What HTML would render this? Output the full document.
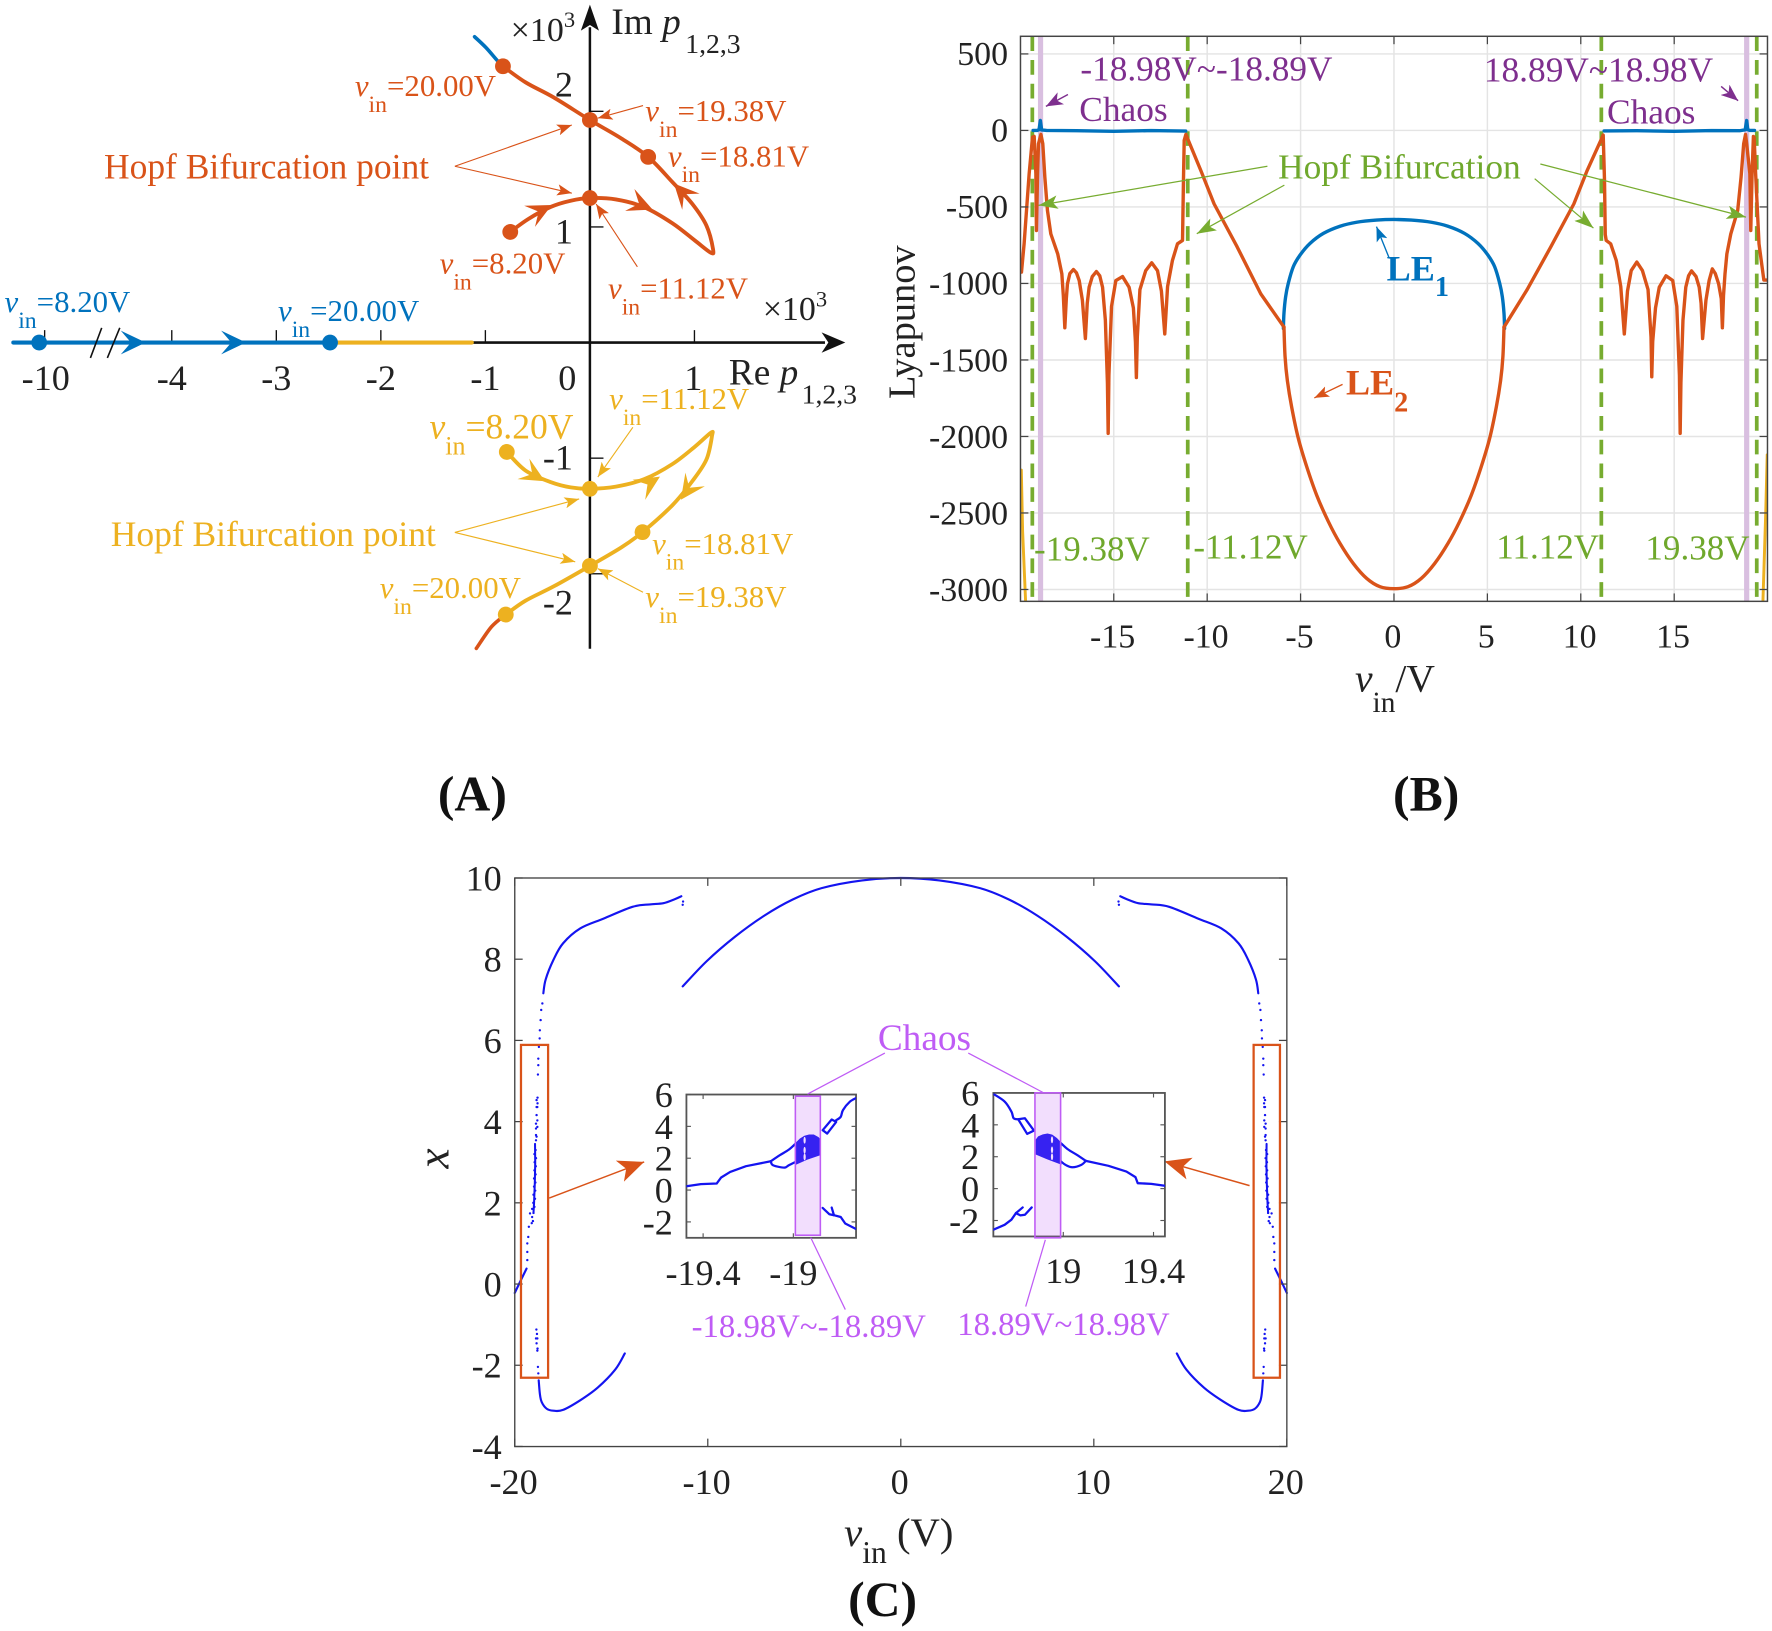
<!DOCTYPE html>
<html lang="en">
<head>
<meta charset="utf-8">
<title>Pole trajectories, Lyapunov exponents and bifurcation diagram</title>
<style>
html,body{margin:0;padding:0;background:#fff;}
svg{display:block;font-family:"Liberation Serif","Noto Serif CJK SC",serif;}
.vin{font-size:27.3px;}
.t31{font-size:31.3px;}
.t30{font-size:31px;}
.panel{font-size:44px;font-weight:bold;fill:#111;text-anchor:middle;}
.tick{fill:#222;}
</style>
</head>
<body>
<svg id="figure" xmlns="http://www.w3.org/2000/svg" width="1772" height="1631" viewBox="0 0 1568 1443">
<defs>
  <marker id="ah-orange" markerWidth="14" markerHeight="10" refX="13" refY="5" orient="auto" markerUnits="userSpaceOnUse"><path d="M0 0L13 5L0 10L3 5Z" fill="#d95319"/></marker>
  <marker id="ah-big-orange" markerWidth="24" markerHeight="20" refX="23" refY="10" orient="auto" markerUnits="userSpaceOnUse"><path d="M0 0L23 10L0 20L6 10Z" fill="#d95319"/></marker>
  <marker id="ah-yellow" markerWidth="14" markerHeight="10" refX="13" refY="5" orient="auto" markerUnits="userSpaceOnUse"><path d="M0 0L13 5L0 10L3 5Z" fill="#edb120"/></marker>
  <marker id="ah-green" markerWidth="18" markerHeight="12" refX="17" refY="6" orient="auto" markerUnits="userSpaceOnUse"><path d="M0 0L17 6L0 12L4 6Z" fill="#77ac30"/></marker>
  <marker id="ah-purple" markerWidth="16" markerHeight="12" refX="15" refY="6" orient="auto" markerUnits="userSpaceOnUse"><path d="M0 0L15 6L0 12L4 6Z" fill="#7e2f8e"/></marker>
  <marker id="ah-blue" markerWidth="14" markerHeight="10" refX="13" refY="5" orient="auto" markerUnits="userSpaceOnUse"><path d="M0 0L13 5L0 10L3 5Z" fill="#0072bd"/></marker>
  <clipPath id="clip-b"><rect x="903" y="32" width="661" height="500"/></clipPath>
  <clipPath id="clip-left-inset"><rect x="607.4" y="968.4" width="150.1" height="126.8"/></clipPath>
  <clipPath id="clip-right-inset"><rect x="879" y="967" width="151.8" height="127"/></clipPath>
</defs>

<rect x="0" y="0" width="1568" height="1443" fill="#fff"/>

<!-- PANEL A -->
<g id="panel-a">
  <g id="a-marks"></g>
  <g stroke="#111" stroke-width="1.4">
    <line x1="80" y1="316.6" x2="90" y2="290"/>
    <line x1="95" y1="316.6" x2="106" y2="290"/>
  </g>
  <g stroke="#d95319" stroke-width="1" fill="none">
    <line x1="569" y1="93.3" x2="529" y2="104.4" marker-end="url(#ah-orange)"/>
    <line x1="402.5" y1="147" x2="506" y2="110.5" marker-end="url(#ah-orange)"/>
    <line x1="402.5" y1="147" x2="506" y2="170.8" marker-end="url(#ah-orange)"/>
    <line x1="564" y1="236" x2="527.5" y2="180.4" marker-end="url(#ah-orange)"/>
  </g>
  <g stroke="#edb120" stroke-width="1" fill="none">
    <line x1="560" y1="378" x2="529" y2="422" marker-end="url(#ah-yellow)"/>
    <line x1="402.5" y1="471" x2="512.5" y2="441.4" marker-end="url(#ah-yellow)"/>
    <line x1="402.5" y1="471" x2="509" y2="497" marker-end="url(#ah-yellow)"/>
    <line x1="569" y1="524" x2="529" y2="503" marker-end="url(#ah-yellow)"/>
  </g>
  <text x="675" y="283" font-size="30" fill="#222">×10<tspan font-size="20" dy="-12">3</tspan></text>
  <text x="452" y="36" font-size="30" fill="#222">×10<tspan font-size="20" dy="-12">3</tspan></text>
  <text x="541" y="30" font-size="33" fill="#222">Im <tspan font-style="italic">p</tspan><tspan font-size="24.5" dy="17" dx="4">1,2,3</tspan></text>
  <text x="645" y="340" font-size="33" fill="#222">Re <tspan font-style="italic">p</tspan><tspan font-size="24.5" dy="17" dx="3">1,2,3</tspan></text>
  <text x="92" y="158" font-size="31.4" fill="#d95319">Hopf Bifurcation point</text>
  <text x="98" y="483" font-size="31.4" fill="#edb120">Hopf Bifurcation point</text>

  <text x="314" y="85" class="vin" fill="#d95319"><tspan font-style="italic">v</tspan><tspan dy="14" font-size="21">in</tspan><tspan dy="-14">=20.00V</tspan></text>
  <text x="571" y="107" class="vin" fill="#d95319"><tspan font-style="italic">v</tspan><tspan dy="14" font-size="21">in</tspan><tspan dy="-14">=19.38V</tspan></text>
  <text x="591" y="147" class="vin" fill="#d95319"><tspan font-style="italic">v</tspan><tspan dy="14" font-size="21">in</tspan><tspan dy="-14">=18.81V</tspan></text>
  <text x="389" y="242" class="vin" fill="#d95319"><tspan font-style="italic">v</tspan><tspan dy="14" font-size="21">in</tspan><tspan dy="-14">=8.20V</tspan></text>
  <text x="538" y="264" class="vin" fill="#d95319"><tspan font-style="italic">v</tspan><tspan dy="14" font-size="21">in</tspan><tspan dy="-14">=11.12V</tspan></text>
  <text x="4" y="276" class="vin" fill="#0072bd"><tspan font-style="italic">v</tspan><tspan dy="14" font-size="21">in</tspan><tspan dy="-14">=8.20V</tspan></text>
  <text x="246" y="284" class="vin" fill="#0072bd"><tspan font-style="italic">v</tspan><tspan dy="14" font-size="21">in</tspan><tspan dy="-14">=20.00V</tspan></text>
  <text x="539" y="362" class="vin" fill="#edb120"><tspan font-style="italic">v</tspan><tspan dy="14" font-size="21">in</tspan><tspan dy="-14">=11.12V</tspan></text>
  <text x="380" y="388" font-size="31.5" fill="#edb120"><tspan font-style="italic">v</tspan><tspan dy="14" font-size="23">in</tspan><tspan dy="-14">=8.20V</tspan></text>
  <text x="577" y="490" class="vin" fill="#edb120"><tspan font-style="italic">v</tspan><tspan dy="14" font-size="21">in</tspan><tspan dy="-14">=18.81V</tspan></text>
  <text x="571" y="537" class="vin" fill="#edb120"><tspan font-style="italic">v</tspan><tspan dy="14" font-size="21">in</tspan><tspan dy="-14">=19.38V</tspan></text>
  <text x="336" y="529" class="vin" fill="#edb120"><tspan font-style="italic">v</tspan><tspan dy="14" font-size="21">in</tspan><tspan dy="-14">=20.00V</tspan></text>
  <text x="418" y="717" class="panel">(A)</text>
</g>

<!-- PANEL B -->
<g id="panel-b">
  <g id="b-grid"></g>
  <g id="b-marks" clip-path="url(#clip-b)"></g>
  <rect x="903" y="32" width="661" height="500" fill="none" stroke="#444" stroke-width="1.3"/>
  <g id="b-axes"></g>
  <text transform="translate(809,285) rotate(-90)" font-size="34" fill="#222" text-anchor="middle">Lyapunov</text>
  <text x="1199" y="612" font-size="35" fill="#222"><tspan font-style="italic">v</tspan><tspan dy="18" font-size="26">in</tspan><tspan dy="-18">/V</tspan></text>
  <text x="956" y="71" font-size="31.2" fill="#7e2f8e">-18.98V~-18.89V</text>
  <text x="955" y="107" class="t31" fill="#7e2f8e">Chaos</text>
  <text x="1313" y="72" class="t31" fill="#7e2f8e">18.89V~18.98V</text>
  <text x="1422" y="109" class="t31" fill="#7e2f8e">Chaos</text>
  <line x1="945" y1="83.5" x2="925.5" y2="94" stroke="#7e2f8e" stroke-width="1.3" marker-end="url(#ah-purple)"/>
  <line x1="1523" y1="76.4" x2="1538" y2="89" stroke="#7e2f8e" stroke-width="1.3" marker-end="url(#ah-purple)"/>
  <text x="1131" y="158" class="t31" fill="#6fa82c">Hopf Bifurcation</text>
  <g stroke="#77ac30" stroke-width="1.1">
    <line x1="1121.5" y1="147" x2="919" y2="181.6" marker-end="url(#ah-green)"/>
    <line x1="1136.5" y1="163.7" x2="1059" y2="206.7" marker-end="url(#ah-green)"/>
    <line x1="1363" y1="145" x2="1545" y2="192" marker-end="url(#ah-green)"/>
    <line x1="1358" y1="158" x2="1410" y2="201.7" marker-end="url(#ah-green)"/>
  </g>
  <text x="915" y="496" class="t30" fill="#6fa82c">-19.38V</text>
  <text x="1056" y="494" class="t30" fill="#6fa82c">-11.12V</text>
  <text x="1324" y="494" class="t30" fill="#6fa82c">11.12V</text>
  <text x="1456" y="495" class="t30" fill="#6fa82c">19.38V</text>
  <text x="1227" y="248" font-size="32" font-weight="bold" fill="#0072bd">LE<tspan dy="14" font-size="25">1</tspan></text>
  <text x="1191" y="349" font-size="32" font-weight="bold" fill="#d95319">LE<tspan dy="15" font-size="25">2</tspan></text>
  <line x1="1229" y1="227.6" x2="1218" y2="200.4" stroke="#0072bd" stroke-width="1.2" marker-end="url(#ah-blue)"/>
  <line x1="1188" y1="340" x2="1163" y2="352" stroke="#d95319" stroke-width="1.2" marker-end="url(#ah-orange)"/>
  <text x="1262" y="717" class="panel">(B)</text>
</g>

<!-- PANEL C -->
<g id="panel-c">
  <g id="c-marks"></g>
  <rect x="455.5" y="776.8" width="683.2" height="503.1" fill="none" stroke="#444" stroke-width="1.2"/>
  <g id="c-axes"></g>
  <text transform="translate(397,1025) rotate(-90)" font-size="40" font-style="italic" fill="#222" text-anchor="middle">x</text>
  <text x="747" y="1368" font-size="36" fill="#222"><tspan font-style="italic">v</tspan><tspan dy="15" font-size="28">in</tspan><tspan dy="-15" dx="9">(V)</tspan></text>
  <rect x="461" y="924.5" width="24" height="294.5" fill="none" stroke="#d95319" stroke-width="2"/>
  <rect x="1109.3" y="924.5" width="23.3" height="294.5" fill="none" stroke="#d95319" stroke-width="2"/>
  <line x1="486" y1="1060" x2="570" y2="1028" stroke="#d95319" stroke-width="1.3" marker-end="url(#ah-big-orange)"/>
  <line x1="1105.7" y1="1049" x2="1030.5" y2="1027.6" stroke="#d95319" stroke-width="1.3" marker-end="url(#ah-big-orange)"/>

  <g id="inset-left">
    <rect x="607.4" y="968.4" width="150.1" height="126.8" fill="#fff" stroke="#555" stroke-width="1.6"/>
    <g id="inset-left-marks" clip-path="url(#clip-left-inset)"></g>
    <rect x="703.8" y="969.9" width="22.1" height="123" fill="#bf5cf5" fill-opacity="0.2" stroke="#bf5cf5" stroke-width="1.4"/>
  </g>
  <g id="inset-right">
    <rect x="879" y="967" width="151.8" height="127" fill="#fff" stroke="#555" stroke-width="1.6"/>
    <g id="inset-right-marks" clip-path="url(#clip-right-inset)"></g>
    <rect x="915.8" y="966.9" width="22.7" height="128.3" fill="#bf5cf5" fill-opacity="0.2" stroke="#bf5cf5" stroke-width="1.4"/>
  </g>
  <g id="inset-axes"></g>

  <text x="818" y="929" font-size="33" fill="#bf5cf5" text-anchor="middle">Chaos</text>
  <g stroke="#bf5cf5" stroke-width="1.1">
    <line x1="783" y1="931.7" x2="714.6" y2="968"/>
    <line x1="856.8" y1="931.7" x2="922.8" y2="966.5"/>
    <line x1="717.4" y1="1095" x2="748" y2="1158.7"/>
    <line x1="925" y1="1097" x2="907.6" y2="1156"/>
  </g>
  <text x="612" y="1183" font-size="29" fill="#bf5cf5">-18.98V~-18.89V</text>
  <text x="847" y="1181" font-size="29" fill="#bf5cf5">18.89V~18.98V</text>
  <text x="781" y="1430" class="panel">(C)</text>
</g>

<script>
/* ---------- Panel A data (Re, Im in units of 10^3) ---------- */
const realAxisTicks = [-10, -4, -3, -2, -1, 1];
const realAxisLabels = ['-10', '-4', '-3', '-2', '-1', '1'];
const imagAxisTicks = [2, 1, -1, -2];
const imagAxisLabels = ['2', '1', '-1', '-2'];
const realRootBlueRe = [-12.3, -2.486];
const realRootYellowRe = [-2.486, -1.13];
const realRootDotsRe = [-10.4, -2.486];
const upperRe = [-0.762, -0.589, -0.373, -0.184, 0, 0.249, 0.519, 0.789, 1.005, 1.157, 1.178, 1.114, 0.978, 0.789, 0.557, 0.303, 0, -0.346, -0.616, -0.832];
const upperIm = [0.957, 1.069, 1.174, 1.227, 1.25, 1.238, 1.171, 1.032, 0.882, 0.777, 0.807, 1.013, 1.201, 1.388, 1.606, 1.764, 1.925, 2.12, 2.251, 2.39];
const upperTailRe = [-0.832, -0.886, -0.995, -1.103];
const upperTailIm = [2.39, 2.439, 2.552, 2.645];
const upperDotsRe = [-0.832, 0, 0.557, 0, -0.762];
const upperDotsIm = [2.39, 1.925, 1.606, 1.25, 0.957];
const lowerRe = [-0.795, -0.616, -0.373, -0.184, 0, 0.249, 0.519, 0.789, 1.005, 1.157, 1.168, 1.114, 0.978, 0.789, 0.503, 0.303, 0, -0.346, -0.616, -0.805];
const lowerIm = [-0.946, -1.107, -1.208, -1.253, -1.265, -1.246, -1.182, -1.051, -0.9, -0.78, -0.807, -1.013, -1.201, -1.407, -1.64, -1.771, -1.932, -2.109, -2.233, -2.353];
const lowerTailRe = [-0.805, -0.941, -1.086];
const lowerTailIm = [-2.353, -2.458, -2.645];
const lowerDotsRe = [-0.795, 0, 0.503, 0, -0.805];
const lowerDotsIm = [-0.946, -1.265, -1.64, -1.932, -2.353];
const upperArrowRe = [-0.365, 0.6, 0.804];
const upperArrowIm = [1.19, 1.15, 1.376];
const upperArrowDeg = [-27, 23, -133];
const lowerArrowRe = [-0.43, 0.67, 0.87];
const lowerArrowIm = [-1.2, -1.16, -1.36];
const lowerArrowDeg = [30, -32, 125];
const realArrowRe = [-4.25, -3.29];
const realArrowDeg = [0, 0];

/* ---------- Panel B data (volts, Lyapunov exponent) ---------- */
const lyapXTicks = [-15, -10, -5, 0, 5, 10, 15];
const lyapXLabels = ['-15', '-10', '-5', '0', '5', '10', '15'];
const lyapYTicks = [500, 0, -500, -1000, -1500, -2000, -2500, -3000];
const lyapYLabels = ['500', '0', '-500', '-1000', '-1500', '-2000', '-2500', '-3000'];
const hopfVolts = [-19.36, -11.04, 11.1, 19.42];
const chaosVolts = [-18.92, 18.88];
const le1LeftVolts = [-19.32, -19.1, -19.0, -18.93, -18.86, -18.6, -17, -15, -13, -11.15];
const le1LeftValues = [0, 0, 5, 65, 3, 0, -2, -6, -1, -4];
const le1CenterVolts = [-5.92, -5.89, -5.8, -5.66, -5.39, -5.03, -4.5, -3.78, -2.89, -2, -0.93, 0, 0.93, 2, 2.89, 3.78, 4.5, 5.03, 5.39, 5.66, 5.8, 5.89, 5.92];
const le1CenterValues = [-1294, -1196, -1087, -1000, -891, -815, -739, -673, -626, -600, -586, -582, -586, -600, -626, -673, -739, -815, -891, -1000, -1087, -1196, -1294];
const le1RightVolts = [11.25, 13, 15, 17, 18.5, 18.8, 18.88, 18.94, 19.05, 19.3];
const le1RightValues = [-3, -2, -6, -1, -2, 4, 65, 5, 0, 0];
const le2LeftVolts = [-19.94, -19.8, -19.53, -19.35, -19.26, -19.17, -19.14, -19.08, -19.03, -18.9, -18.8, -18.69, -18.55, -18.37, -18.0, -17.78, -17.7, -17.62, -17.54, -17.48, -17.35, -17.16, -17.0, -16.85, -16.68, -16.52, -16.42, -16.32, -16.15, -15.93, -15.75, -15.6, -15.45, -15.34, -15.3, -15.26, -15.12, -14.89, -14.53, -14.18, -13.95, -13.84, -13.79, -13.74, -13.6, -13.29, -12.97, -12.66, -12.45, -12.27, -12.12, -11.86, -11.59, -11.32, -11.27, -11.23, -11.14, -10.34, -9.63, -8.4, -7.13, -5.89];
const le2LeftValues = [-926, -741, -283, -44, -39, -283, -654, -283, -87, -26, -87, -305, -523, -676, -807, -937, -1080, -1290, -1100, -1003, -935, -909, -930, -981, -1110, -1360, -1130, -1025, -955, -922, -950, -1025, -1240, -1650, -1980, -1600, -1150, -981, -955, -1025, -1160, -1380, -1615, -1350, -1040, -916, -865, -916, -1050, -1330, -1020, -850, -741, -719, -327, -65, -26, -262, -480, -760, -1068, -1285];
const le2BowlVolts = [-5.89, -5.83, -5.71, -5.48, -5.12, -4.67, -4.14, -3.51, -2.89, -2.18, -1.46, -0.75, 0, 0.75, 1.46, 2.18, 2.89, 3.51, 4.14, 4.67, 5.12, 5.48, 5.71, 5.83, 5.89];
const le2BowlValues = [-1285, -1479, -1632, -1806, -2013, -2198, -2383, -2557, -2699, -2830, -2928, -2982, -2995, -2982, -2928, -2830, -2699, -2557, -2383, -2198, -2013, -1806, -1632, -1479, -1285];
const le2RightVolts = [5.89, 7.13, 8.4, 9.63, 10.34, 11.2, 11.27, 11.31, 11.36, 11.6, 11.9, 12.14, 12.33, 12.5, 12.7, 13.0, 13.3, 13.6, 13.76, 13.8, 13.85, 14.0, 14.2, 14.56, 14.92, 15.14, 15.28, 15.32, 15.36, 15.47, 15.62, 15.77, 15.93, 16.17, 16.34, 16.44, 16.52, 16.7, 16.87, 17.04, 17.2, 17.38, 17.52, 17.58, 17.64, 17.72, 17.82, 18.03, 18.4, 18.58, 18.72, 18.82, 18.88, 19.05, 19.1, 19.17, 19.24, 19.28, 19.36, 19.54, 19.8, 19.97];
const le2RightValues = [-1285, -1040, -760, -480, -262, -30, -327, -680, -719, -741, -850, -1020, -1330, -1050, -916, -860, -916, -1040, -1350, -1610, -1380, -1160, -1025, -950, -981, -1150, -1600, -1980, -1650, -1240, -1025, -950, -918, -955, -1025, -1130, -1360, -1110, -981, -905, -935, -1003, -1100, -1290, -1080, -937, -807, -676, -523, -305, -87, -26, -87, -283, -654, -283, -39, -44, -283, -741, -978, -978];
const le3LeftVolts = [-19.95, -19.88, -19.72];
const le3LeftValues = [-2220, -2620, -3078];
const le3RightVolts = [19.75, 19.9, 19.98];
const le3RightValues = [-3078, -2500, -2120];

/* ---------- Panel C data (volts, x) ---------- */
const bifXTicks = [-20, -10, 0, 10, 20];
const bifXLabels = ['-20', '-10', '0', '10', '20'];
const bifYTicks = [10, 8, 6, 4, 2, 0, -2, -4];
const bifYLabels = ['10', '8', '6', '4', '2', '0', '-2', '-4'];
const arcVolts = [-11.3, -10.06, -8.6, -7.08, -5.6, -4.1, -2, 0, 2, 4.1, 5.6, 7.08, 8.6, 10.06, 11.3];
const arcValues = [7.33, 7.95, 8.55, 9.07, 9.47, 9.75, 9.94, 10, 9.94, 9.75, 9.47, 9.07, 8.55, 7.95, 7.33];
const upperLeftVolts = [-18.52, -18.4, -18.0, -17.5, -16.6, -15.4, -13.9, -13, -12.3, -11.7, -11.37];
const upperLeftValues = [7.16, 7.5, 7.98, 8.39, 8.76, 9.0, 9.29, 9.35, 9.38, 9.48, 9.55];
const upperRightVolts = [18.52, 18.4, 18.0, 17.5, 16.6, 15.4, 13.9, 13, 12.3, 11.7, 11.37];
const upperRightValues = [7.16, 7.5, 7.98, 8.39, 8.76, 9.0, 9.29, 9.35, 9.38, 9.48, 9.55];
const lowerLeftVolts = [-18.76, -18.7, -18.61, -18.35, -18.0, -17.5, -16.6, -15.7, -14.8, -14.3];
const lowerLeftValues = [-2.37, -2.7, -2.9, -3.07, -3.12, -3.1, -2.86, -2.55, -2.11, -1.71];
const lowerRightVolts = [18.76, 18.7, 18.61, 18.35, 18.0, 17.5, 16.6, 15.7, 14.8, 14.3];
const lowerRightValues = [-2.37, -2.7, -2.9, -3.07, -3.12, -3.1, -2.86, -2.55, -2.11, -1.71];
const edgeLeftVolts = [-19.39, -19.73, -20];
const edgeLeftValues = [0.38, 0.05, -0.22];
const edgeRightVolts = [19.39, 19.73, 20];
const edgeRightValues = [0.38, 0.05, -0.22];
const denseLeftVolts = [-18.95, -18.94, -18.96, -19.0, -19.03];
const denseRightVolts = [18.95, 18.94, 18.96, 19.0, 19.03];
const denseValues = [3.45, 3.0, 2.5, 2.0, 1.75];
const scatterLeftVolts = [-18.57, -18.63, -18.66, -18.7, -18.71, -18.75, -18.78, -18.78, -18.8, -18.82, -18.87, -18.82, -18.87, -18.83, -18.87, -18.83, -18.9, -18.83, -18.9, -18.9, -18.87, -18.9, -18.92, -18.98, -18.9, -18.97, -18.91, -18.98, -18.92, -19.0, -18.93, -19.0, -18.94, -19.03, -18.95, -19.04, -18.98, -19.1, -19.03, -19.1, -19.06, -19.12, -19.21, -19.27, -19.3, -19.35, -19.35, -19.35, -18.88, -18.85, -18.9, -18.83, -18.87, -18.82, -18.83, -18.8, -18.78, -11.3, -11.28];
const scatterLeftValues = [6.91, 6.75, 6.5, 6.25, 6.05, 5.84, 5.55, 5.39, 5.16, 4.59, 4.53, 4.45, 4.36, 4.36, 4.16, 4.03, 3.95, 3.87, 3.83, 3.67, 3.63, 3.54, 3.3, 3.2, 3.1, 3.0, 2.9, 2.8, 2.7, 2.6, 2.5, 2.4, 2.3, 2.2, 2.1, 2.0, 1.9, 1.85, 1.75, 1.65, 1.55, 1.5, 1.74, 1.41, 1.16, 1.0, 0.79, 0.59, -1.12, -1.23, -1.34, -1.34, -1.46, -1.59, -1.64, -2.04, -2.2, 9.34, 9.42];
const scatterRightVolts = [18.57, 18.63, 18.66, 18.7, 18.71, 18.75, 18.78, 18.78, 18.8, 18.82, 18.87, 18.82, 18.87, 18.83, 18.87, 18.83, 18.9, 18.83, 18.9, 18.9, 18.87, 18.9, 18.92, 18.98, 18.9, 18.97, 18.91, 18.98, 18.92, 19.0, 18.93, 19.0, 18.94, 19.03, 18.95, 19.04, 18.98, 19.1, 19.03, 19.1, 19.06, 19.12, 19.21, 19.27, 19.3, 19.35, 19.35, 19.35, 18.88, 18.85, 18.9, 18.83, 18.87, 18.82, 18.83, 18.8, 18.78, 11.3, 11.28];
const scatterRightValues = [6.91, 6.75, 6.5, 6.25, 6.05, 5.84, 5.55, 5.39, 5.16, 4.59, 4.53, 4.45, 4.36, 4.36, 4.16, 4.03, 3.95, 3.87, 3.83, 3.67, 3.63, 3.54, 3.3, 3.2, 3.1, 3.0, 2.9, 2.8, 2.7, 2.6, 2.5, 2.4, 2.3, 2.2, 2.1, 2.0, 1.9, 1.85, 1.75, 1.65, 1.55, 1.5, 1.74, 1.41, 1.16, 1.0, 0.79, 0.59, -1.12, -1.23, -1.34, -1.34, -1.46, -1.59, -1.64, -2.04, -2.2, 9.34, 9.42];

/* ---------- Inset data ---------- */
const insetYTicks = [6, 4, 2, 0, -2];
const insetYLabels = ['6', '4', '2', '0', '-2'];
const insetLeftXTicks = [-19.4, -19];
const insetLeftXLabels = ['-19.4', '-19'];
const insetRightXTicks = [19, 19.4];
const insetRightXLabels = ['19', '19.4'];
const leftMainV = [-19.474, -19.41, -19.34, -19.32, -19.28, -19.21, -19.1];
const leftMainX = [0.24, 0.37, 0.41, 0.79, 1.14, 1.5, 1.81];
const leftBubbleUpV = [-19.1, -19.06, -19.02, -18.99];
const leftBubbleUpX = [1.81, 2.19, 2.54, 2.92];
const leftBubbleLowV = [-19.1, -19.09, -19.04, -19.02, -18.99];
const leftBubbleLowX = [1.81, 1.56, 1.41, 1.56, 1.77];
const leftBlobV = [-18.99, -18.97, -18.95, -18.93, -18.91, -18.89, -18.88, -18.88, -18.94, -18.99];
const leftBlobX = [2.92, 3.2, 3.38, 3.45, 3.45, 3.3, 3.13, 2.23, 1.94, 1.62];
const leftCapsuleV = [-18.87, -18.83, -18.81, -18.85, -18.87];
const leftCapsuleX = [3.76, 4.43, 4.28, 3.55, 3.76];
const leftTopV = [-18.81, -18.79, -18.78, -18.75, -18.72];
const leftTopX = [4.39, 4.6, 5.02, 5.54, 5.79];
const leftHookV = [-18.87, -18.84, -18.82, -18.83];
const leftHookX = [-1.12, -1.52, -1.58, -1.1];
const leftTailV = [-18.82, -18.79, -18.77, -18.72];
const leftTailX = [-1.58, -1.69, -2.1, -2.46];
const leftGapV = [-18.95, -18.95, -18.95];
const leftGapX = [3.13, 2.5, 2.08];
const rightMainV = [19.45, 19.39, 19.33, 19.32, 19.28, 19.2, 19.1];
const rightMainX = [0.18, 0.3, 0.34, 0.72, 1.07, 1.43, 1.74];
const rightBubbleUpV = [19.1, 19.06, 19.02, 18.99];
const rightBubbleUpX = [1.74, 2.12, 2.47, 2.85];
const rightBubbleLowV = [19.1, 19.08, 19.04, 19.01, 18.99];
const rightBubbleLowX = [1.74, 1.49, 1.34, 1.49, 1.7];
const rightBlobV = [18.99, 18.97, 18.95, 18.93, 18.91, 18.89, 18.88, 18.88, 18.93, 18.99];
const rightBlobX = [2.85, 3.15, 3.35, 3.42, 3.37, 3.25, 3.06, 2.16, 1.87, 1.55];
const rightCapsuleV = [18.87, 18.83, 18.8, 18.84, 18.87];
const rightCapsuleX = [3.64, 4.41, 4.35, 3.43, 3.64];
const rightTopV = [18.69, 18.74, 18.77, 18.78, 18.8];
const rightTopX = [5.94, 5.46, 4.83, 4.41, 4.35];
const rightHookV = [18.69, 18.74, 18.77, 18.79, 18.82];
const rightHookX = [-2.58, -2.27, -1.95, -1.54, -1.18];
const rightTailV = [18.79, 18.81, 18.83, 18.86];
const rightTailX = [-1.54, -1.68, -1.64, -1.18];
const rightGapV = [18.95, 18.95, 18.95];
const rightGapX = [3.06, 2.43, 2.0];

/* ---------- Axis functions ---------- */
function reToPx(re) { return re >= -4.5 ? 522 + 92.5 * re : 39.5 + (re + 10) * 12.05; }
function imToPx(im) { return 303 - 102.3 * im; }
function lyapX(v) { return 1233.5 + 16.53 * v; }
function lyapY(v) { return 115.3 - 0.1354 * v; }
function bifX(v) { return 797.1 + 17.08 * v; }
function bifY(v) { return 776.8 + (10 - v) * 35.93; }
function leftInsetX(v) { return 607.4 + (v + 19.474) * 199.6; }
function leftInsetY(v) { return 968.4 + (6 - v) * 14.09; }
function rightInsetX(v) { return 879 + (v - 18.69) * 199.6; }
function rightInsetY(v) { return 967 + (6 - v) * 14.11; }

/* ---------- Drawing helpers ---------- */
const NS = 'http://www.w3.org/2000/svg';
function group(id) { return document.getElementById(id); }
function pathData(xs, ys, sx, sy, smooth) {
  const pts = xs.map(function (x, i) { return [sx(x), sy(ys[i])]; });
  let d = 'M' + pts[0][0].toFixed(2) + ' ' + pts[0][1].toFixed(2);
  for (let i = 1; i < pts.length; i++) {
    if (smooth) {
      const p0 = pts[Math.max(i - 2, 0)], p1 = pts[i - 1], p2 = pts[i], p3 = pts[Math.min(i + 1, pts.length - 1)];
      const c1 = [p1[0] + (p2[0] - p0[0]) / 6, p1[1] + (p2[1] - p0[1]) / 6];
      const c2 = [p2[0] - (p3[0] - p1[0]) / 6, p2[1] - (p3[1] - p1[1]) / 6];
      d += 'C' + c1[0].toFixed(2) + ' ' + c1[1].toFixed(2) + ' ' + c2[0].toFixed(2) + ' ' + c2[1].toFixed(2) + ' ' + p2[0].toFixed(2) + ' ' + p2[1].toFixed(2);
    } else {
      d += 'L' + pts[i][0].toFixed(2) + ' ' + pts[i][1].toFixed(2);
    }
  }
  return d;
}
function curve(parent, name, xs, ys, sx, sy, color, width, smooth) {
  const el = document.createElementNS(NS, 'path');
  
  
  el.setAttribute('d', pathData(xs, ys, sx, sy, smooth));
  el.setAttribute('fill', 'none');
  el.setAttribute('stroke', color);
  el.setAttribute('stroke-width', width);
  el.setAttribute('stroke-linejoin', 'round');
  el.setAttribute('stroke-linecap', 'round');
  group(parent).appendChild(el);
  return el;
}
function filled(parent, name, xs, ys, sx, sy, color) {
  const el = document.createElementNS(NS, 'path');
  
  
  el.setAttribute('d', pathData(xs, ys, sx, sy, false) + 'Z');
  el.setAttribute('fill', color);
  el.setAttribute('stroke', color);
  el.setAttribute('stroke-width', '1');
  group(parent).appendChild(el);
}
function dot(parent, name, cx, cy, r, color) {
  const el = document.createElementNS(NS, 'circle');
  
  
  el.setAttribute('cx', cx.toFixed(2));
  el.setAttribute('cy', cy.toFixed(2));
  el.setAttribute('r', r);
  el.setAttribute('fill', color);
  group(parent).appendChild(el);
}
function seg(parent, name, x1, y1, x2, y2, color, width, dash) {
  const el = document.createElementNS(NS, 'line');
  
  
  el.setAttribute('x1', x1.toFixed(2));
  el.setAttribute('y1', y1.toFixed(2));
  el.setAttribute('x2', x2.toFixed(2));
  el.setAttribute('y2', y2.toFixed(2));
  el.setAttribute('stroke', color);
  el.setAttribute('stroke-width', width);
  if (dash) { el.setAttribute('stroke-dasharray', dash); }
  group(parent).appendChild(el);
}
function label(parent, name, x, y, str, size, anchor) {
  const el = document.createElementNS(NS, 'text');
  
  
  el.setAttribute('x', x.toFixed(2));
  el.setAttribute('y', y.toFixed(2));
  el.setAttribute('font-size', size);
  el.setAttribute('text-anchor', anchor);
  el.setAttribute('class', 'tick');
  el.textContent = str;
  group(parent).appendChild(el);
}
function chevron(parent, name, cx, cy, deg, color) {
  const el = document.createElementNS(NS, 'polygon');
  
  
  el.setAttribute('points', '0,0 -22,-10.5 -13,0 -22,10.5');
  el.setAttribute('transform', 'translate(' + cx.toFixed(2) + ',' + cy.toFixed(2) + ') rotate(' + deg + ')');
  el.setAttribute('fill', color);
  group(parent).appendChild(el);
}

/* ---------- Panel A ---------- */
const BLUE = '#0072bd', ORANGE = '#d95319', YELLOW = '#edb120';
seg('a-marks', 'real-axis', 418, 303, 730, 303, '#111', 2.4);
seg('a-marks', 'imag-axis', 522, 574, 522, 24, '#111', 2.2);
const aTipX = document.createElementNS(NS, 'polygon');


aTipX.setAttribute('points', '748,303 727,294 733,303 727,312');
aTipX.setAttribute('fill', '#111');
group('a-marks').appendChild(aTipX);
const aTipY = document.createElementNS(NS, 'polygon');


aTipY.setAttribute('points', '522,4 514,27 522,22 530,27');
aTipY.setAttribute('fill', '#111');
group('a-marks').appendChild(aTipY);
realAxisTicks.forEach(function (t, i) {
  seg('a-marks', 'real-tick', reToPx(t), 303, reToPx(t), 292, '#111', 1.2);
  label('a-marks', 'real-tick-label', reToPx(t) + (t === -10 ? 1 : (t === 1 ? -1 : 0)), 345, realAxisLabels[i], 32, 'middle');
});
label('a-marks', 'real-tick-label-zero', 502, 345, '0', 32, 'middle');
imagAxisTicks.forEach(function (t, i) {
  seg('a-marks', 'imag-tick', 522, imToPx(t), 534, imToPx(t), '#111', 1.2);
  label('a-marks', 'imag-tick-label', 507, imToPx(t) + (t > 0 ? (t === 2 ? -13 : 14.5) : (t === -1 ? 10 : 36)), imagAxisLabels[i], 32, 'end');
});
function yZero() { return 303; }
curve('a-marks', 'real-root-stable', realRootBlueRe, [0, 0], reToPx, function () { return yZero(); }, BLUE, 3.6, false);
curve('a-marks', 'real-root-unstable', realRootYellowRe, [0, 0], reToPx, function () { return yZero(); }, YELLOW, 3.6, false);
realArrowRe.forEach(function (re, i) {
  chevron('a-marks', 'real-root-arrow', reToPx(re), 303, realArrowDeg[i], BLUE);
});
realRootDotsRe.forEach(function (re) {
  dot('a-marks', 'real-root-point', reToPx(re), 303, 7, BLUE);
});
curve('a-marks', 'upper-pole-tail', upperTailRe, upperTailIm, reToPx, imToPx, BLUE, 3.2, true);
curve('a-marks', 'lower-pole-tail', lowerTailRe, lowerTailIm, reToPx, imToPx, ORANGE, 3.2, true);
curve('a-marks', 'upper-pole-trajectory', upperRe, upperIm, reToPx, imToPx, ORANGE, 3.4, true);
curve('a-marks', 'lower-pole-trajectory', lowerRe, lowerIm, reToPx, imToPx, YELLOW, 3.4, true);
upperArrowRe.forEach(function (re, i) {
  chevron('a-marks', 'upper-pole-arrow', reToPx(re), imToPx(upperArrowIm[i]), upperArrowDeg[i], ORANGE);
});
lowerArrowRe.forEach(function (re, i) {
  chevron('a-marks', 'lower-pole-arrow', reToPx(re), imToPx(lowerArrowIm[i]), lowerArrowDeg[i], YELLOW);
});
upperDotsRe.forEach(function (re, i) {
  dot('a-marks', 'upper-pole-point', reToPx(re), imToPx(upperDotsIm[i]), 7, ORANGE);
});
lowerDotsRe.forEach(function (re, i) {
  dot('a-marks', 'lower-pole-point', reToPx(re), imToPx(lowerDotsIm[i]), 7, YELLOW);
});

/* ---------- Panel B ---------- */
const lyapTop = 32, lyapBottom = 532, lyapLeft = 903, lyapRight = 1564;
lyapXTicks.forEach(function (t, i) {
  seg('b-grid', 'lyapunov-x-gridline', lyapX(t), lyapTop, lyapX(t), lyapBottom, '#e4e4e4', 1.3);
  seg('b-axes', 'lyapunov-x-tick', lyapX(t), lyapBottom, lyapX(t), lyapBottom - 7, '#444', 1.1);
  seg('b-axes', 'lyapunov-x-tick-top', lyapX(t), lyapTop, lyapX(t), lyapTop + 7, '#444', 1.1);
  label('b-axes', 'lyapunov-x-tick-label', lyapX(t) - 1, 573, lyapXLabels[i], 30, 'middle');
});
lyapYTicks.forEach(function (t, i) {
  seg('b-grid', 'lyapunov-y-gridline', lyapLeft, lyapY(t), lyapRight, lyapY(t), '#e4e4e4', 1.3);
  seg('b-axes', 'lyapunov-y-tick', lyapLeft, lyapY(t), lyapLeft + 7, lyapY(t), '#444', 1.1);
  seg('b-axes', 'lyapunov-y-tick-right', lyapRight, lyapY(t), lyapRight - 7, lyapY(t), '#444', 1.1);
  label('b-axes', 'lyapunov-y-tick-label', 892, lyapY(t) + 10, lyapYLabels[i], 30, 'end');
});
chaosVolts.forEach(function (v) {
  seg('b-marks', 'chaos-band', lyapX(v), lyapTop, lyapX(v), lyapBottom, '#d9bfe0', 4.6);
});
hopfVolts.forEach(function (v) {
  seg('b-marks', 'hopf-line', lyapX(v), lyapTop, lyapX(v), lyapBottom, '#77ac30', 3.3, '13 8');
});
curve('b-marks', 'le3-left', le3LeftVolts, le3LeftValues, lyapX, lyapY, YELLOW, 2.6, false);
curve('b-marks', 'le3-right', le3RightVolts, le3RightValues, lyapX, lyapY, YELLOW, 2.6, false);
curve('b-marks', 'le1-left', le1LeftVolts, le1LeftValues, lyapX, lyapY, BLUE, 3, false);
curve('b-marks', 'le1-center', le1CenterVolts, le1CenterValues, lyapX, lyapY, BLUE, 3, true);
curve('b-marks', 'le1-right', le1RightVolts, le1RightValues, lyapX, lyapY, BLUE, 3, false);
curve('b-marks', 'le2-left', le2LeftVolts, le2LeftValues, lyapX, lyapY, ORANGE, 3, false);
curve('b-marks', 'le2-center', le2BowlVolts, le2BowlValues, lyapX, lyapY, ORANGE, 3, true);
curve('b-marks', 'le2-right', le2RightVolts, le2RightValues, lyapX, lyapY, ORANGE, 3, false);

/* ---------- Panel C ---------- */
const BIF = '#1414f0';
bifXTicks.forEach(function (t, i) {
  seg('c-axes', 'bifurcation-x-tick', bifX(t), 1279.9, bifX(t), 1272.9, '#444', 1.1);
  seg('c-axes', 'bifurcation-x-tick-top', bifX(t), 776.8, bifX(t), 783.8, '#444', 1.1);
  label('c-axes', 'bifurcation-x-tick-label', bifX(t) - 1, 1322, bifXLabels[i], 32, 'middle');
});
bifYTicks.forEach(function (t, i) {
  seg('c-axes', 'bifurcation-y-tick', 455.5, bifY(t), 462.5, bifY(t), '#444', 1.1);
  seg('c-axes', 'bifurcation-y-tick-right', 1138.7, bifY(t), 1131.7, bifY(t), '#444', 1.1);
  label('c-axes', 'bifurcation-y-tick-label', 444, bifY(t) + 11, bifYLabels[i], 32, 'end');
});
curve('c-marks', 'period-one-arc', arcVolts, arcValues, bifX, bifY, BIF, 1.9, true);
curve('c-marks', 'upper-left-branch', upperLeftVolts, upperLeftValues, bifX, bifY, BIF, 1.9, true);
curve('c-marks', 'upper-right-branch', upperRightVolts, upperRightValues, bifX, bifY, BIF, 1.9, true);
curve('c-marks', 'lower-left-branch', lowerLeftVolts, lowerLeftValues, bifX, bifY, BIF, 1.9, true);
curve('c-marks', 'lower-right-branch', lowerRightVolts, lowerRightValues, bifX, bifY, BIF, 1.9, true);
curve('c-marks', 'edge-left-branch', edgeLeftVolts, edgeLeftValues, bifX, bifY, BIF, 1.9, false);
curve('c-marks', 'edge-right-branch', edgeRightVolts, edgeRightValues, bifX, bifY, BIF, 1.9, false);
curve('c-marks', 'chaos-trace-left', denseLeftVolts, denseValues, bifX, bifY, BIF, 1.8, false);
curve('c-marks', 'chaos-trace-right', denseRightVolts, denseValues, bifX, bifY, BIF, 1.8, false);
scatterLeftVolts.forEach(function (v, i) {
  dot('c-marks', 'bifurcation-point-left', bifX(v), bifY(scatterLeftValues[i]), 1.05, BIF);
});
scatterRightVolts.forEach(function (v, i) {
  dot('c-marks', 'bifurcation-point-right', bifX(v), bifY(scatterRightValues[i]), 1.05, BIF);
});

/* ---------- Insets ---------- */
function drawInset(parent, prefix, sx, sy, data) {
  curve(parent, prefix + '-main-branch', data[0], data[1], sx, sy, BIF, 2, false);
  curve(parent, prefix + '-bubble-upper', data[2], data[3], sx, sy, BIF, 2, true);
  curve(parent, prefix + '-bubble-lower', data[4], data[5], sx, sy, BIF, 2, true);
  filled(parent, prefix + '-chaos-region', data[6], data[7], sx, sy, BIF);
  curve(parent, prefix + '-periodic-window', data[8], data[9], sx, sy, BIF, 2, false);
  curve(parent, prefix + '-upper-end', data[10], data[11], sx, sy, BIF, 2, true);
  curve(parent, prefix + '-lower-hook', data[12], data[13], sx, sy, BIF, 2, false);
  curve(parent, prefix + '-lower-tail', data[14], data[15], sx, sy, BIF, 2, false);
  data[16].forEach(function (v, i) {
    const gap = document.createElementNS(NS, 'ellipse');
    
    
    gap.setAttribute('cx', sx(v).toFixed(2));
    gap.setAttribute('cy', sy(data[17][i]).toFixed(2));
    gap.setAttribute('rx', '1');
    gap.setAttribute('ry', '3');
    gap.setAttribute('fill', '#fff');
    group(parent).appendChild(gap);
  });
}
drawInset('inset-left-marks', 'inset-left', leftInsetX, leftInsetY, [leftMainV, leftMainX, leftBubbleUpV, leftBubbleUpX, leftBubbleLowV, leftBubbleLowX, leftBlobV, leftBlobX, leftCapsuleV, leftCapsuleX, leftTopV, leftTopX, leftHookV, leftHookX, leftTailV, leftTailX, leftGapV, leftGapX]);
drawInset('inset-right-marks', 'inset-right', rightInsetX, rightInsetY, [rightMainV, rightMainX, rightBubbleUpV, rightBubbleUpX, rightBubbleLowV, rightBubbleLowX, rightBlobV, rightBlobX, rightCapsuleV, rightCapsuleX, rightTopV, rightTopX, rightHookV, rightHookX, rightTailV, rightTailX, rightGapV, rightGapX]);

insetYTicks.forEach(function (t, i) {
  seg('inset-axes', 'inset-left-y-tick', 607.4, leftInsetY(t), 611.4, leftInsetY(t), '#555', 1);
  seg('inset-axes', 'inset-left-y-tick-right', 757.5, leftInsetY(t), 753.5, leftInsetY(t), '#555', 1);
  label('inset-axes', 'inset-left-y-tick-label', 595.4, leftInsetY(t) + 11, insetYLabels[i], 32, 'end');
  seg('inset-axes', 'inset-right-y-tick', 879, rightInsetY(t), 883, rightInsetY(t), '#555', 1);
  seg('inset-axes', 'inset-right-y-tick-right', 1030.8, rightInsetY(t), 1026.8, rightInsetY(t), '#555', 1);
  label('inset-axes', 'inset-right-y-tick-label', 866.5, rightInsetY(t) + 11, insetYLabels[i], 32, 'end');
});
insetLeftXTicks.forEach(function (t, i) {
  seg('inset-axes', 'inset-left-x-tick', leftInsetX(t), 1095.2, leftInsetX(t), 1091.2, '#555', 1);
  seg('inset-axes', 'inset-left-x-tick-top', leftInsetX(t), 968.4, leftInsetX(t), 972.4, '#555', 1);
  label('inset-axes', 'inset-left-x-tick-label', leftInsetX(t), 1137, insetLeftXLabels[i], 32, 'middle');
});
insetRightXTicks.forEach(function (t, i) {
  seg('inset-axes', 'inset-right-x-tick', rightInsetX(t), 1094, rightInsetX(t), 1090, '#555', 1);
  seg('inset-axes', 'inset-right-x-tick-top', rightInsetX(t), 967, rightInsetX(t), 971, '#555', 1);
  label('inset-axes', 'inset-right-x-tick-label', rightInsetX(t), 1135, insetRightXLabels[i], 32, 'middle');
});
</script>
</svg>
</body>
</html>
